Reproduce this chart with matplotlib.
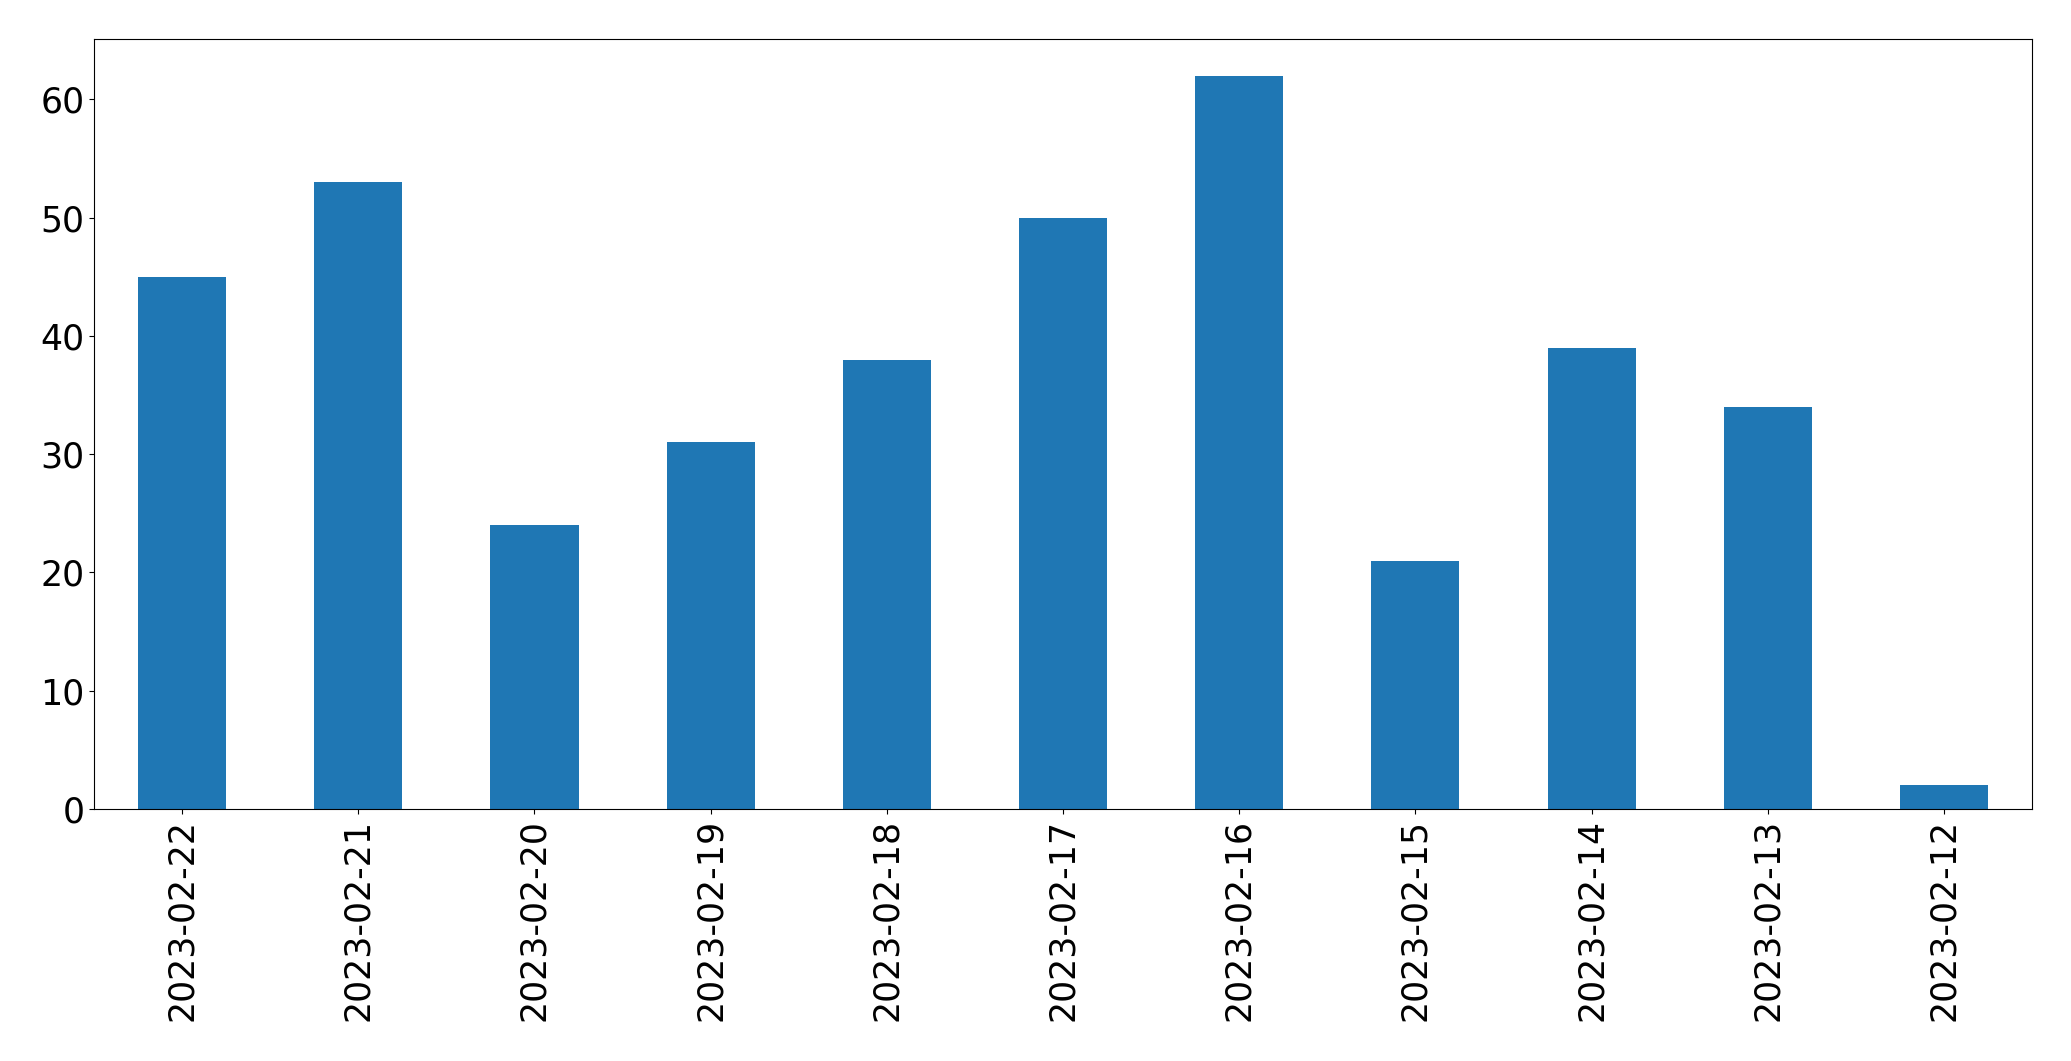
import matplotlib
matplotlib.use("Agg")
import matplotlib.pyplot as plt
import numpy as np

dates = ["2023-02-22", "2023-02-21", "2023-02-20", "2023-02-19", "2023-02-18",
         "2023-02-17", "2023-02-16", "2023-02-15", "2023-02-14", "2023-02-13",
         "2023-02-12"]
counts = [45, 53, 24, 31, 38, 50, 62, 21, 39, 34, 2]

fig, ax = plt.subplots(figsize=(20.71, 10.61), dpi=100)
fig.subplots_adjust(left=0.0454, right=0.9812, top=0.9632, bottom=0.2375)

x = np.arange(len(dates))
ax.bar(x, counts, width=0.5, color="#1f77b4")
ax.set_xlim(-0.5, len(dates) - 0.5)
ax.set_ylim(0, max(counts) * 1.05)
ax.set_xticks(x)
ax.set_xticklabels(dates, rotation=90)
ax.tick_params(labelsize=25)

plt.savefig("out.png")
